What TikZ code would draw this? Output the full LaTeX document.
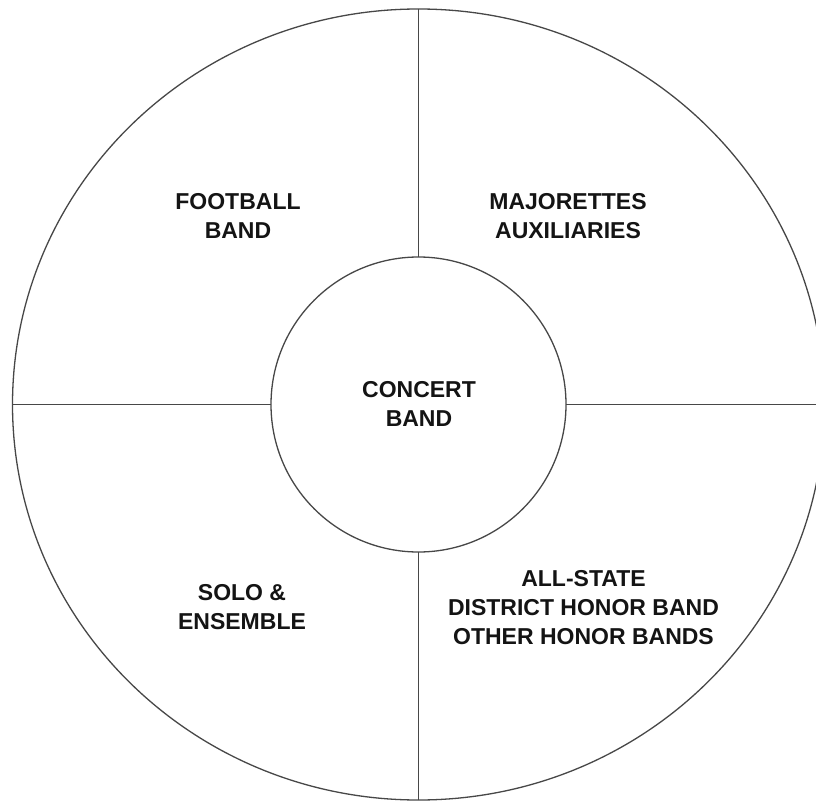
\documentclass[tikz,border=0pt]{standalone}
\usepackage{fontspec}
\setmainfont{Liberation Sans}
\usetikzlibrary{shapes.geometric}
\begin{document}
\begin{tikzpicture}[x=1pt,y=1pt,
  ring/.style={draw=black!72,line width=1.3pt,inner sep=0pt,outer sep=0pt},
  divider/.style={draw=black!72,line width=1.3pt},
  lbl/.style={align=center,font=\fontsize{23}{29}\selectfont\bfseries,text=black!92,inner sep=0pt}]
\useasboundingbox (0,0) rectangle (816,-802);
\clip (0,0) rectangle (816,-802);
\fill[white] (0,0) rectangle (816,-802);
\node[ring,ellipse,minimum width=812,minimum height=791] (outer) at (418.5,-404.5) {};
\node[ring,circle,minimum size=295] (inner) at (418.5,-404.5) {};
\draw[divider] (outer.north) -- (inner.north);
\draw[divider] (outer.south) -- (inner.south);
\draw[divider] (outer.west) -- (inner.west);
\draw[divider] (outer.east) -- (inner.east);
\node[lbl] (concert) at (419,-404) {CONCERT\\BAND};
\node[lbl] (football) at (238,-216) {FOOTBALL\\BAND};
\node[lbl] (majorettes) at (568,-216) {MAJORETTES\\AUXILIARIES};
\node[lbl] (solo) at (242,-607.5) {SOLO \&\\ENSEMBLE};
\node[lbl] (allstate) at (583.5,-607.5) {ALL-STATE\\DISTRICT HONOR BAND\\OTHER HONOR BANDS};
\end{tikzpicture}
\end{document}
